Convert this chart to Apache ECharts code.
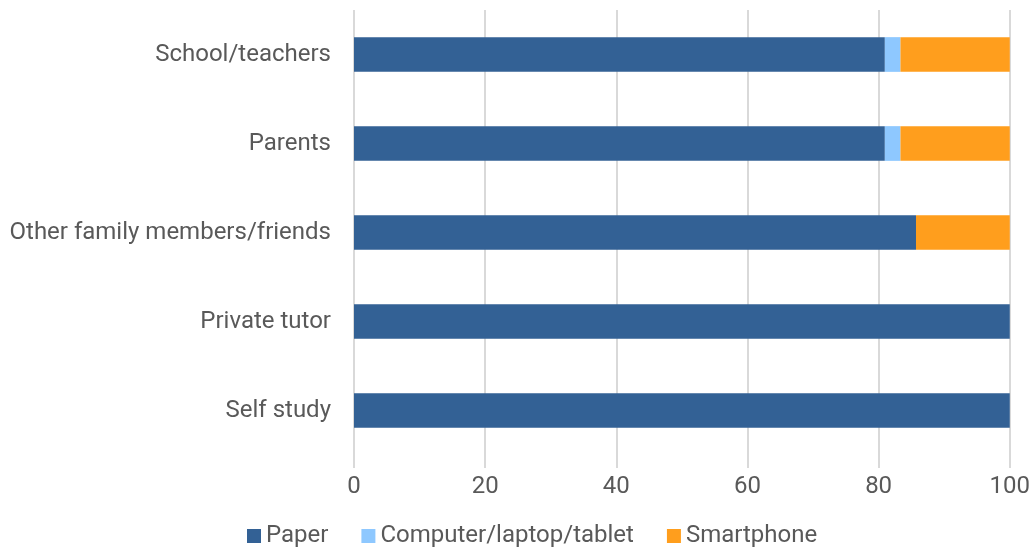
<!DOCTYPE html>
<html>
<head>
<meta charset="utf-8">
<script src="https://cdn.jsdelivr.net/npm/echarts@6/dist/echarts.min.js"></script>
<style>
  html, body { margin: 0; padding: 0; background: #fff; }
  #chart { width: 1033px; height: 552px; }
</style>
</head>
<body>
<div id="chart"></div>
<script>
// categories bottom -> top (echarts draws the first category at the bottom)
const categories = ['Self study', 'Private tutor', 'Other family members/friends', 'Parents', 'School/teachers'];
const paper = [100, 100, 85.7, 80.95, 80.95];
const computer = [0, 0, 0, 2.38, 2.38];
const smartphone = [0, 0, 14.3, 16.67, 16.67];
const xTicks = [0, 20, 40, 60, 80, 100];

const myChart = echarts.init(document.getElementById('chart'));
const font = 'Roboto, "Noto Sans", sans-serif';

function bar(name, data, color) {
  return {
    name: name,
    type: 'bar',
    stack: 'total',
    data: data,
    barCategoryGap: '61%',
    itemStyle: { color: color },
    emphasis: { disabled: true }
  };
}

myChart.setOption({
  animation: false,
  textStyle: { fontFamily: font },
  grid: { left: 354, right: 23, top: 10, bottom: 97 },
  legend: {
    top: 522,
    left: 242,
    padding: [2, 5],
    icon: 'rect',
    itemWidth: 14,
    itemHeight: 14,
    itemGap: 33,
    itemStyle: { borderWidth: 0 },
    textStyle: { fontSize: 24, color: '#595959', fontFamily: font },
    data: ['Paper', 'Computer/laptop/tablet', 'Smartphone']
  },
  xAxis: {
    type: 'value',
    min: xTicks[0],
    max: xTicks[xTicks.length - 1],
    interval: 20,
    axisLine: { show: false },
    axisTick: { show: true, length: 13, lineStyle: { color: '#d9d9d9', width: 2 } },
    splitLine: { lineStyle: { color: '#d9d9d9', width: 2 } },
    axisLabel: { fontSize: 24, color: '#595959', margin: 20, fontFamily: font }
  },
  yAxis: {
    type: 'category',
    data: categories,
    axisLine: { show: false },
    axisTick: { show: false },
    axisLabel: { fontSize: 24, color: '#595959', margin: 23, fontFamily: font }
  },
  series: [
    bar('Paper', paper, '#336195'),
    bar('Computer/laptop/tablet', computer, '#8ec8ff'),
    bar('Smartphone', smartphone, '#ff9e1d')
  ]
});
</script>
</body>
</html>
